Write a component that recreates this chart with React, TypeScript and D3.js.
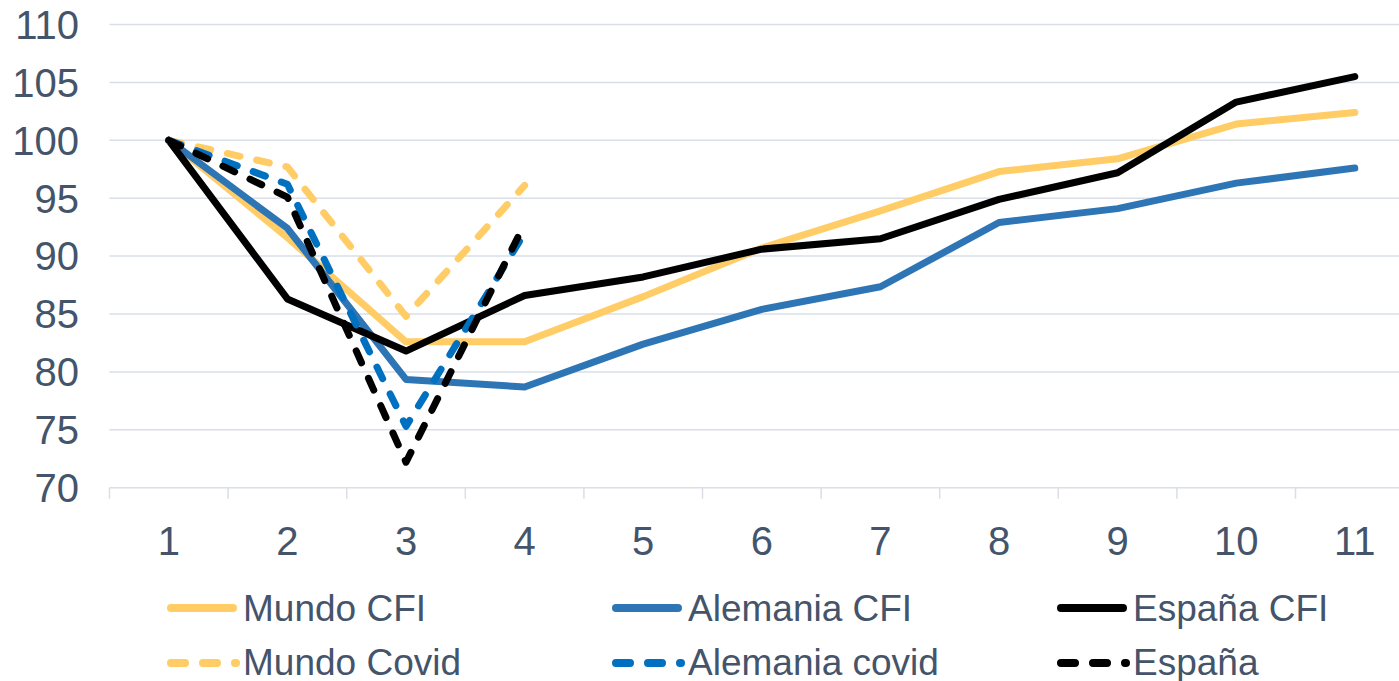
import React, { useEffect, useRef } from 'react';
import * as d3 from 'd3';

// periodos (eje X)
const periods = ['1', '2', '3', '4', '5', '6', '7', '8', '9', '10', '11'];
const yTicks = [70, 75, 80, 85, 90, 95, 100, 105, 110];

// series
const mundoCFI = [100, 91.6, 82.6, 82.6, 86.5, 90.7, 93.9, 97.3, 98.4, 101.4, 102.4];
const alemaniaCFI = [100, 92.4, 79.35, 78.7, 82.4, 85.4, 87.35, 92.9, 94.1, 96.3, 97.6];
const espanaCFI = [100, 86.3, 81.8, 86.6, 88.2, 90.6, 91.5, 94.9, 97.2, 103.3, 105.5];
const mundoCovid = [100, 97.7, 84.8, 96.1];
const alemaniaCovid = [100, 96.2, 75.3, 92.0];
const espanaCovid = [100, 95.1, 72.2, 92.8];

const series = [
  { name: 'Mundo CFI', values: mundoCFI, color: '#FFCC66', dashed: false },
  { name: 'Alemania CFI', values: alemaniaCFI, color: '#2E75B6', dashed: false },
  { name: 'España CFI', values: espanaCFI, color: '#000000', dashed: false },
  { name: 'Mundo Covid', values: mundoCovid, color: '#FFCC66', dashed: true },
  { name: 'Alemania covid', values: alemaniaCovid, color: '#0070C0', dashed: true },
  { name: 'España', values: espanaCovid, color: '#000000', dashed: true },
];

const W = 1399;
const H = 681;
const FONT = '"Liberation Sans", Arial, sans-serif';
const TEXT = '#44546A';
const GRID = '#D9DEE7';

export default function App() {
  const svgRef = useRef<SVGSVGElement>(null);

  useEffect(() => {
    const svg = d3.select(svgRef.current);
    svg.selectAll('*').remove();

    const x = d3.scaleBand().domain(periods).range([109.5, 109.5 + 11 * 118.6]).padding(0);
    const y = d3.scaleLinear().domain([70, 110]).range([487.7, 24.5]);

    // grid
    svg.append('g')
      .selectAll('line')
      .data(yTicks.filter(t => t !== 70))
      .enter()
      .append('line')
      .attr('x1', 109.5)
      .attr('x2', W)
      .attr('y1', d => y(d))
      .attr('y2', d => y(d))
      .attr('stroke', GRID)
      .attr('stroke-width', 1.5);

    // eje Y labels
    svg.append('g')
      .selectAll('text')
      .data(yTicks)
      .enter()
      .append('text')
      .attr('x', 79)
      .attr('y', d => y(d) + 14.3)
      .attr('text-anchor', 'end')
      .attr('font-family', FONT)
      .attr('font-size', 40)
      .attr('fill', TEXT)
      .text(d => d);

    // eje X
    const xAxis = svg.append('g').attr('transform', `translate(0,${y(70)})`);
    xAxis.append('line')
      .attr('x1', 109.5)
      .attr('x2', W)
      .attr('stroke', GRID)
      .attr('stroke-width', 1.5);
    const bounds = periods.map(p => x(p) as number).concat([(x('11') as number) + x.bandwidth()]);
    xAxis.selectAll('.tick')
      .data(bounds)
      .enter()
      .append('line')
      .attr('class', 'tick')
      .attr('x1', d => d)
      .attr('x2', d => d)
      .attr('y1', 0)
      .attr('y2', 11)
      .attr('stroke', GRID)
      .attr('stroke-width', 1.5);
    xAxis.selectAll('text')
      .data(periods)
      .enter()
      .append('text')
      .attr('x', d => (x(d) as number) + x.bandwidth() / 2)
      .attr('y', 67)
      .attr('text-anchor', 'middle')
      .attr('font-family', FONT)
      .attr('font-size', 40)
      .attr('fill', TEXT)
      .text(d => d);

    // lineas
    const line = d3.line<number>()
      .x((_, i) => (x(periods[i]) as number) + x.bandwidth() / 2)
      .y(d => y(d));

    series.forEach(s => {
      svg.append('path')
        .datum(s.values)
        .attr('d', line)
        .attr('fill', 'none')
        .attr('stroke', s.color)
        .attr('stroke-width', 7)
        .attr('stroke-linejoin', 'round')
        .attr('stroke-linecap', 'round')
        .attr('stroke-dasharray', s.dashed ? '13 17' : null);
    });

    // leyenda
    const legend = svg.append('g');
    series.forEach((s, i) => {
      const col = i % 3;
      const row = Math.floor(i / 3);
      const lx = 167 + col * 445;
      const ly = 608 + row * 55;
      legend.append('line')
        .attr('x1', s.dashed ? lx + 4 : lx + 4)
        .attr('x2', s.dashed ? lx + 69 : lx + 66)
        .attr('y1', ly)
        .attr('y2', ly)
        .attr('stroke', s.color)
        .attr('stroke-width', 8)
        .attr('stroke-linecap', 'round')
        .attr('stroke-dasharray', s.dashed ? '14 18' : null);
      legend.append('text')
        .attr('x', lx + 76)
        .attr('y', ly + 13 - row)
        .attr('font-family', FONT)
        .attr('font-size', 37)
        .attr('fill', TEXT)
        .text(s.name);
    });
  }, []);

  return (
    <svg
      ref={svgRef}
      width={W}
      height={H}
      style={{ position: 'absolute', left: 0, top: 0, background: '#fff' }}
    />
  );
}
